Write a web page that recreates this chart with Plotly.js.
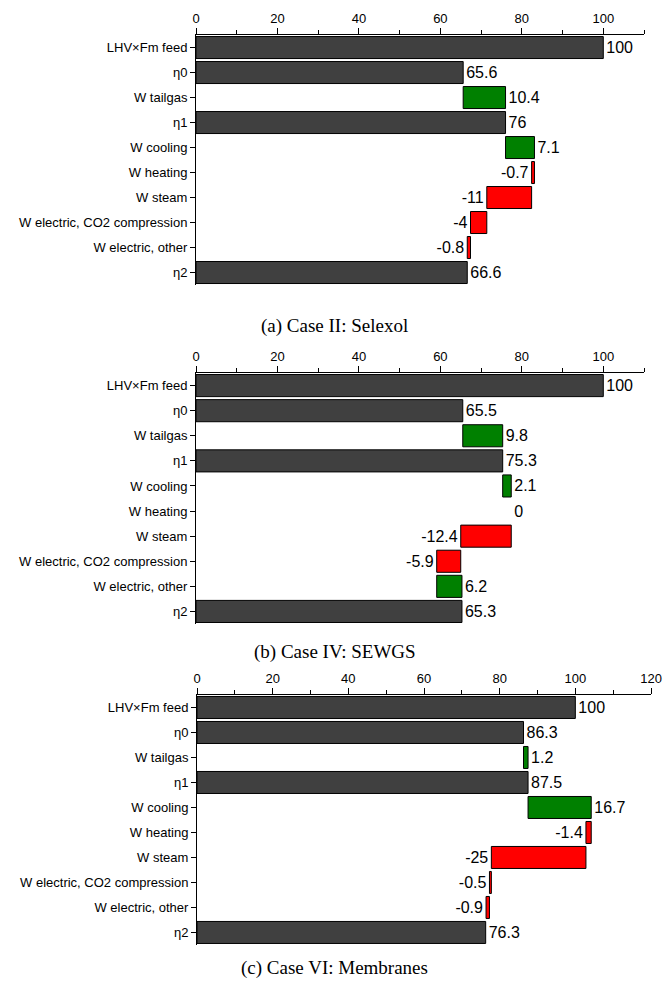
<!DOCTYPE html>
<html>
<head>
<meta charset="utf-8">
<script src="https://cdn.plot.ly/plotly-3.0.1.min.js"></script>
<style>html,body{margin:0;padding:0;background:#fff;}#chart{width:666px;height:990px;}</style>
</head>
<body>
<div id="chart"></div>
<script>
const categories = ["LHV×Fm feed","η0","W tailgas","η1","W cooling","W heating","W steam","W electric, CO2 compression","W electric, other","η2"];
const measures = ["absolute","absolute","relative","absolute","relative","relative","relative","relative","relative","absolute"];
const caseII = [100,65.6,10.4,76,7.1,-0.7,-11,-4,-0.8,66.6];
const caseIV = [100,65.5,9.8,75.3,2.1,0,-12.4,-5.9,6.2,65.3];
const caseVI = [100,86.3,1.2,87.5,16.7,-1.4,-25,-0.5,-0.9,76.3];
const captions = ["(a) Case II: Selexol","(b) Case IV: SEWGS","(c) Case VI: Membranes"];
const xRanges = [[0,110],[0,110],[0,120]];

const series = [caseII, caseIV, caseVI];
const sans = "Liberation Sans, Arial, sans-serif";

const traces = series.map((vals, i) => ({
  type: 'waterfall',
  orientation: 'h',
  x: vals,
  y: categories,
  measure: measures,
  text: vals.map(v => String(v)),
  textposition: 'outside',
  constraintext: 'none',
  cliponaxis: false,
  textfont: {family: sans, size: 16, color: '#000'},
  connector: {visible: false},
  totals: {marker: {color: '#404040', line: {color: '#000', width: 1}}},
  increasing: {marker: {color: '#008000', line: {color: '#000', width: 1}}},
  decreasing: {marker: {color: '#ff0000', line: {color: '#000', width: 1}}},
  xaxis: i === 0 ? 'x' : 'x' + (i + 1),
  yaxis: i === 0 ? 'y' : 'y' + (i + 1),
  hoverinfo: 'skip',
  showlegend: false
}));

const yDomains = [[0.7121, 0.9646], [0.3697, 0.6232], [0.0455, 0.2980]];
const xDomains = [[0.2943, 0.967], [0.2943, 0.967], [0.2958, 0.9775]];
const captionY = [0.6707, 0.3414, 0.0222];

const layout = {
  width: 666, height: 990,
  margin: {l: 0, r: 0, t: 0, b: 0},
  paper_bgcolor: '#fff', plot_bgcolor: '#fff',
  font: {family: sans, size: 13, color: '#000'},
  waterfallgap: 0.12,
  annotations: captions.map((c, i) => ({
    text: c, xref: 'paper', yref: 'paper', x: 0.503, y: captionY[i],
    showarrow: false, xanchor: 'center', yanchor: 'middle',
    font: {family: 'Liberation Serif, Times New Roman, serif', size: 19, color: '#000'}
  }))
};

for (let i = 0; i < 3; i++) {
  const xs = i === 0 ? 'xaxis' : 'xaxis' + (i + 1);
  const ys = i === 0 ? 'yaxis' : 'yaxis' + (i + 1);
  layout[xs] = {
    domain: xDomains[i], anchor: i === 0 ? 'y' : 'y' + (i + 1),
    side: 'top', range: xRanges[i], dtick: 20, tick0: 0,
    ticks: 'outside', ticklen: 6, tickcolor: '#000', tickwidth: 1,
    minor: {dtick: 10, tick0: 0, ticks: 'outside', ticklen: 4, tickcolor: '#000', tickwidth: 1, showgrid: false},
    showline: true, linecolor: '#000', linewidth: 1,
    showgrid: false, zeroline: false,
    tickfont: {family: sans, size: 13, color: '#000'},
    fixedrange: true
  };
  layout[ys] = {
    domain: yDomains[i], anchor: i === 0 ? 'x' : 'x' + (i + 1),
    autorange: 'reversed', type: 'category',
    ticks: 'outside', ticklen: 5, tickcolor: '#000', tickwidth: 1,
    showline: true, linecolor: '#000', linewidth: 1,
    showgrid: false, zeroline: false,
    tickfont: {family: sans, size: 13, color: '#000'},
    fixedrange: true
  };
}

Plotly.newPlot('chart', traces, layout, {staticPlot: true, displayModeBar: false});
</script>
</body>
</html>
